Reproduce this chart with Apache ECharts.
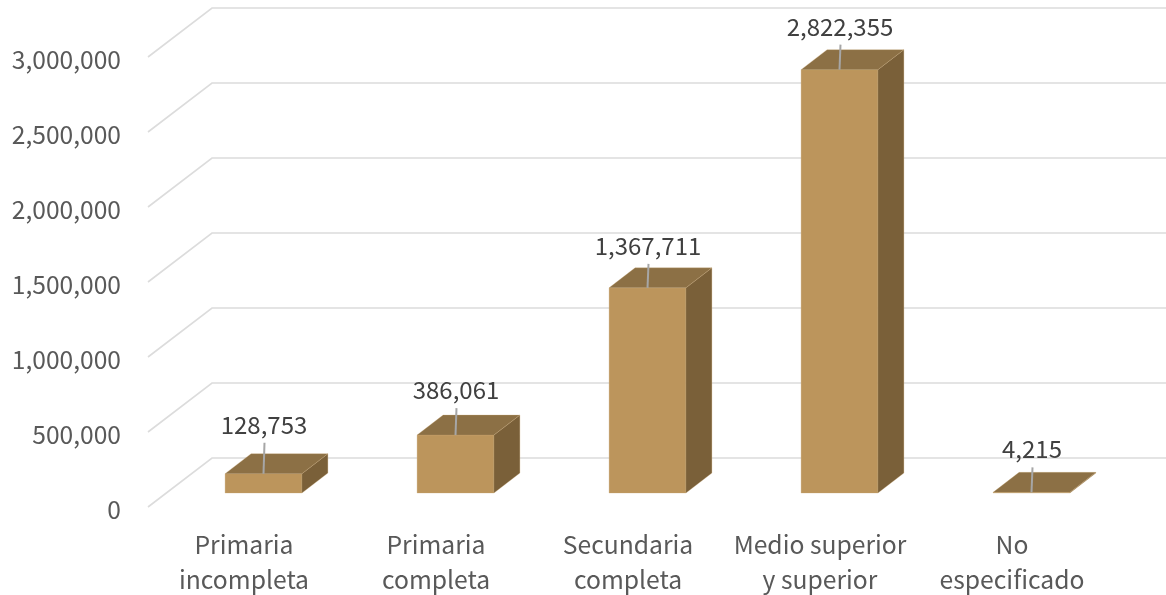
<!DOCTYPE html>
<html lang="es">
<head>
    <meta charset="utf-8">
    <title>Escolaridad</title>
    <style>
        html, body { margin: 0; padding: 0; background: #fff; }
    </style>
</head>
<body>

<div id="main" style="width: 1166px;height:595px;"></div>

<script src="https://cdn.jsdelivr.net/npm/echarts@6/dist/echarts.min.js"></script>

<script>
var categories = ['Primaria\nincompleta', 'Primaria\ncompleta', 'Secundaria\ncompleta', 'Medio superior\ny superior', 'No\nespecificado'];
var values = [128753, 386061, 1367711, 2822355, 4215];
var yTicks = [0, 500000, 1000000, 1500000, 2000000, 2500000, 3000000];
var labelLift = [49, 45, 42, 43, 43];

// 3d look: how far the back wall and the bar box are pushed from the front plane
var wallDx = 64, wallDy = 49;
var barShiftX = 19.5, barShiftY = 14;
var boxDx = 26, boxDy = 20;

var fontName = '"Noto Sans CJK JP", "Noto Sans", sans-serif';

function poly(points, color) {
    return {
        type: 'polygon',
        shape: { points: points },
        style: { fill: color, stroke: '#c9a673', lineWidth: 0.3 }
    };
}

function renderWall(params, api) {
    var p = api.coord([0, api.value(1)]);
    var left = params.coordSys.x;
    return {
        type: 'polyline',
        shape: {
            points: [
                [left, p[1]],
                [left + wallDx, p[1] - wallDy],
                [left + wallDx + params.coordSys.width, p[1] - wallDy]
            ]
        },
        style: { fill: null, stroke: '#dcdcdc', lineWidth: 1.6 },
        silent: true
    };
}

function renderBar(params, api) {
    var idx = api.value(0);
    var top = api.coord([idx, api.value(1)]);
    var base = api.coord([idx, 0]);
    var w = api.size([1, 0])[0] * 0.4;
    var x0 = top[0] + barShiftX - w / 2;
    var x1 = x0 + w;
    var y0 = top[1] - barShiftY;
    var y1 = base[1] - barShiftY;
    var mid = x0 + w / 2;
    var lift = labelLift[params.dataIndex];
    return {
        type: 'group',
        children: [
            poly([[x0, y0], [x1, y0], [x1, y1], [x0, y1]], '#bc955c'),
            poly([[x1, y0], [x1 + boxDx, y0 - boxDy], [x1 + boxDx, y1 - boxDy], [x1, y1]], '#7a6039'),
            poly([[x0, y0], [x1, y0], [x1 + boxDx, y0 - boxDy], [x0 + boxDx, y0 - boxDy]], '#8c7045'),
            {
                type: 'line',
                shape: { x1: mid, y1: y0, x2: mid + 1, y2: y0 - lift + 18 },
                style: { stroke: '#a6a6a6', lineWidth: 2 }
            },
            {
                type: 'text',
                style: {
                    text: api.value(1).toLocaleString('en-US'),
                    x: mid + 0.5,
                    y: y0 - lift,
                    align: 'center',
                    verticalAlign: 'middle',
                    font: '24px ' + fontName,
                    fill: '#404040'
                }
            }
        ]
    };
}

var myChart = echarts.init(document.getElementById('main'));

var option = {
    backgroundColor: '#ffffff',
    animation: false,
    grid: { left: 148, top: 57, width: 960, height: 450, outerBoundsMode: 'none' },
    xAxis: {
        type: 'category',
        data: categories,
        axisLine: { show: false },
        axisTick: { show: false },
        axisLabel: {
            interval: 0,
            margin: 20,
            color: '#595959',
            fontFamily: fontName,
            fontSize: 24.7,
            lineHeight: 35
        }
    },
    yAxis: {
        type: 'value',
        min: 0,
        max: 3000000,
        interval: 500000,
        splitLine: { show: false },
        axisLine: { show: false },
        axisTick: { show: false },
        axisLabel: {
            margin: 27,
            color: '#595959',
            fontFamily: fontName,
            fontSize: 24.6,
            verticalAlign: 'top',
            lineHeight: 5,
            formatter: function (v) { return v.toLocaleString('en-US'); }
        }
    },
    series: [
        {
            type: 'custom',
            renderItem: renderWall,
            data: yTicks.map(function (t) { return [0, t]; }),
            z: 1,
            silent: true
        },
        {
            type: 'custom',
            renderItem: renderBar,
            data: values.map(function (v, i) { return [i, v]; }),
            z: 2,
            silent: true
        }
    ]
};

myChart.setOption(option);
window.addEventListener('resize', function () {
    myChart.resize();
});
</script>

</body>
</html>
